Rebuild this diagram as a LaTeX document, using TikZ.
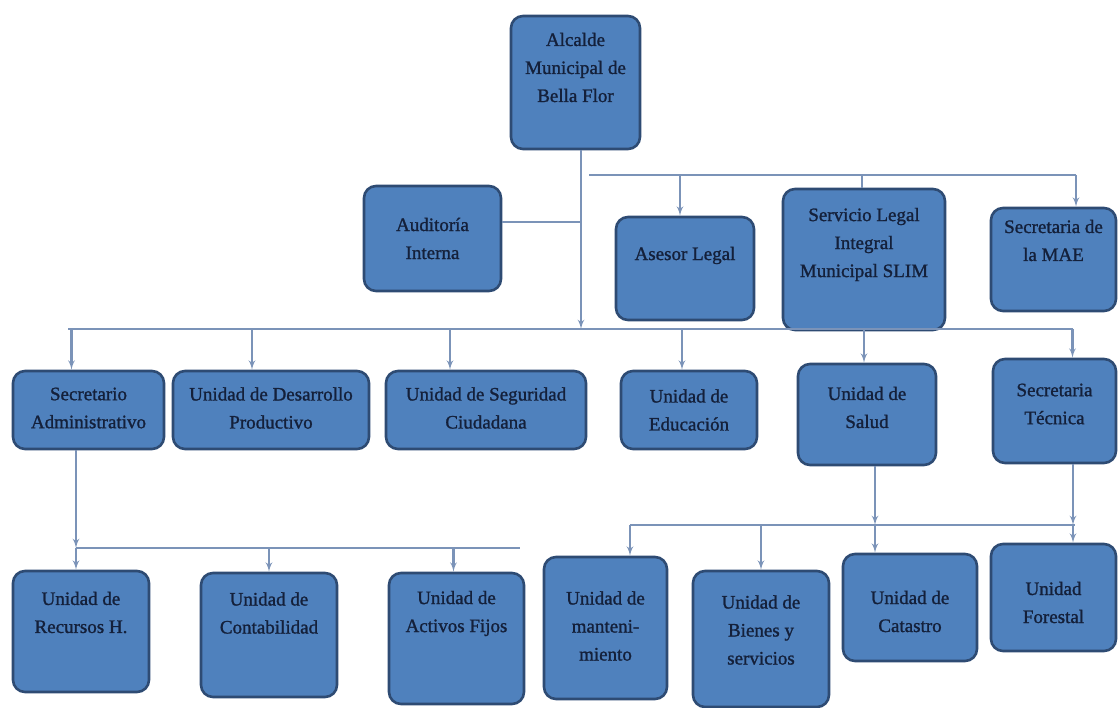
\documentclass[tikz,border=0pt]{standalone}
\usepackage{fontspec}
\setmainfont{Liberation Serif}[FakeBold=1.2]
\usetikzlibrary{arrows}
\definecolor{boxblue}{HTML}{4F81BD}
\definecolor{boxedge}{HTML}{2E4B73}
\definecolor{linkgray}{HTML}{7B93B8}
\definecolor{inkblue}{HTML}{14203A}
\tikzstyle{block} = [ rectangle, draw=boxedge, line width=2.6pt, fill=boxblue, rounded corners=12pt]
\tikzstyle{caption} = [ align=center, text=inkblue, font=\fontsize{19}{28}\selectfont, inner sep=0pt]
\tikzstyle{line} = [ draw=linkgray, line width=2.2pt, -latex']
\tikzstyle{bus} = [ draw=linkgray, line width=2.2pt]

\begin{document}
\begin{tikzpicture}[x=1pt, y=-1pt]
  \useasboundingbox (0,0) rectangle (1119,708);

  \node [block, minimum width=129pt, minimum height=133pt, label={[caption, yshift=15pt]center:Alcalde\\Municipal de\\Bella Flor}] (alcalde) at (575.5,82.5) {};

  \node [block, minimum width=137pt, minimum height=105pt, label={[caption]center:Auditoría\\Interna}] (auditoria) at (432.5,238.5) {};
  \node [block, minimum width=138pt, minimum height=103pt, label={[caption, yshift=13pt]center:Asesor Legal}] (asesor) at (685,268.5) {};
  \node [block, minimum width=162pt, minimum height=141pt, label={[caption, yshift=15pt]center:Servicio Legal\\Integral\\Municipal SLIM}] (slim) at (864,259.5) {};
  \node [block, minimum width=125pt, minimum height=103pt, label={[caption, yshift=19pt]center:Secretaria de\\la MAE}] (mae) at (1053.5,259.5) {};

  \node [block, minimum width=151pt, minimum height=78pt, label={[caption, yshift=2pt]center:Secretario\\Administrativo}] (secretario) at (88.5,410) {};
  \node [block, minimum width=196pt, minimum height=78pt, label={[caption, yshift=2pt]center:Unidad de Desarrollo\\Productivo}] (desarrollo) at (271,410) {};
  \node [block, minimum width=200pt, minimum height=78pt, label={[caption, yshift=2pt]center:Unidad de Seguridad\\Ciudadana}] (seguridad) at (486,410) {};
  \node [block, minimum width=136pt, minimum height=78pt, label={[caption]center:Unidad de\\Educación}] (educacion) at (689,410) {};
  \node [block, minimum width=138pt, minimum height=101pt, label={[caption, yshift=7pt]center:Unidad de\\Salud}] (salud) at (867,414.5) {};
  \node [block, minimum width=123pt, minimum height=104pt, label={[caption, yshift=7pt]center:Secretaria\\Técnica}] (tecnica) at (1054.5,411) {};

  \node [block, minimum width=136pt, minimum height=121pt, label={[caption, yshift=19pt]center:Unidad de\\Recursos H.}] (recursos) at (81,631.5) {};
  \node [block, minimum width=136pt, minimum height=124pt, label={[caption, yshift=22pt]center:Unidad de\\Contabilidad}] (contabilidad) at (269,635) {};
  \node [block, minimum width=135pt, minimum height=131pt, label={[caption, yshift=25pt]center:Unidad de\\Activos Fijos}] (activos) at (456.5,638.5) {};
  \node [block, minimum width=123pt, minimum height=142pt, label={[caption, yshift=2pt]center:Unidad de\\manteni-\\miento}] (mantenimiento) at (605.5,628) {};
  \node [block, minimum width=136pt, minimum height=136pt, label={[caption, yshift=9pt]center:Unidad de\\Bienes y\\servicios}] (bienes) at (761,639) {};
  \node [block, minimum width=134pt, minimum height=107pt, label={[caption, yshift=-4pt]center:Unidad de\\Catastro}] (catastro) at (910,607.5) {};
  \node [block, minimum width=125pt, minimum height=107pt, label={[caption, yshift=-5pt]center:Unidad\\Forestal}] (forestal) at (1053.5,597.5) {};

  \coordinate (trunk) at (581,329);
  \coordinate (audlink) at (581,222);
  \coordinate (busA) at (589,175);
  \coordinate (busAend) at (1076,175);
  \coordinate (busB) at (68,329);
  \coordinate (busBend) at (1073,329);
  \coordinate (busC) at (76,548);
  \coordinate (busCend) at (520,548);
  \coordinate (busD) at (630,525);
  \coordinate (busDend) at (1075,525);
  \coordinate (saludDrop) at (875,525);
  \coordinate (tecDrop) at (1073,525);

  \path [line] (trunk |- alcalde.south) -- (trunk);
  \path [bus] (audlink -| auditoria.east) -- (audlink);

  \path [bus] (busA) -- (busAend);
  \path [line] ([xshift=-5pt]asesor.north |- busA) -- ([xshift=-5pt]asesor.north);
  \path [bus] ([xshift=-2pt]slim.north |- busA) -- ([xshift=-2pt]slim.north);
  \path [line] (busAend) -- (busAend |- mae.north);

  \path [bus] (busB) -- (busBend);
  \foreach \n/\dx in {secretario/-17, desarrollo/-19, seguridad/-36, educacion/-7, salud/-3, tecnica/18}
    \path [line] ([xshift=\dx pt]\n.north |- busB) -- ([xshift=\dx pt]\n.north);

  \path [bus] (busC) -- (busCend);
  \path [line] (busC |- secretario.south) -- (busC);
  \path [line] (busC) -- (busC |- recursos.north);
  \path [line] (contabilidad.north |- busC) -- (contabilidad.north);
  \path [line] ([xshift=-3pt]activos.north |- busC) -- ([xshift=-3pt]activos.north);

  \path [bus] (busD) -- (busDend);
  \path [line] (busD) -- (busD |- mantenimiento.north);
  \path [line] (bienes.north |- busD) -- (bienes.north);
  \path [line] (saludDrop |- salud.south) -- (saludDrop);
  \path [line] (saludDrop) -- (saludDrop |- catastro.north);
  \path [line] (tecDrop |- tecnica.south) -- (tecDrop);
  \path [line] (tecDrop) -- (tecDrop |- forestal.north);
\end{tikzpicture}
\end{document}
